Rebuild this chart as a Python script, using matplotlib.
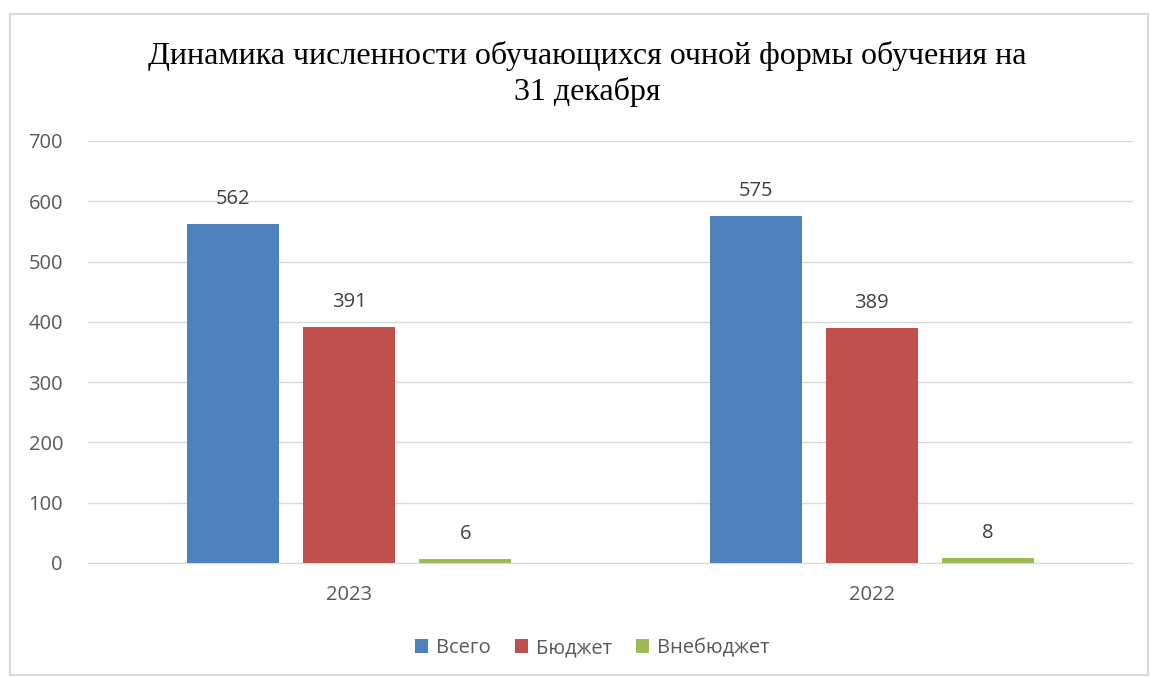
import matplotlib
matplotlib.use("Agg")
import matplotlib.pyplot as plt
from matplotlib.patches import Rectangle
import numpy as np

categories = ["2023", "2022"]
series_names = ["Всего", "Бюджет", "Внебюджет"]
vsego = [562, 575]
budget = [391, 389]
vnebudget = [6, 8]
colors = ["#4F81BD", "#C0504D", "#9BBB59"]
title = "Динамика численности обучающихся очной формы обучения на\n31 декабря"

plt.rcParams['font.family'] = ['Open Sans', 'DejaVu Sans']
fig = plt.figure(figsize=(11.5, 6.77), dpi=100)
fig.patches.append(Rectangle((10/1150, 2/677), 1138/1150, (677-14-2)/677, transform=fig.transFigure,
                             fill=False, edgecolor="#D9D9D9", linewidth=1.5))
ax = fig.add_axes([88/1150, 1-563/677, 1045/1150, 422/677])

x = np.arange(len(categories))
width = 0.176
step = 0.222
data = [vsego, budget, vnebudget]
for i, (vals, name, c) in enumerate(zip(data, series_names, colors)):
    bars = ax.bar(x + (i-1)*step, vals, width, color=c, label=name, zorder=3)
    for b, v in zip(bars, vals):
        ax.annotate(str(v), (b.get_x()+b.get_width()/2, v), xytext=(0, 11), textcoords="offset points",
                    ha="center", va="bottom", fontsize=14.5, color="#404040")

ax.set_xlim(-0.5, 1.5)
ax.set_ylim(0, 700)
ax.set_yticks(range(0, 701, 100))
ax.set_xticks(x)
ax.set_xticklabels(categories)
ax.grid(axis="y", color="#D9D9D9", linewidth=1, zorder=0)
for s in ["top", "right", "left"]:
    ax.spines[s].set_visible(False)
ax.spines["bottom"].set_color("#D9D9D9")
ax.tick_params(axis="both", length=0, labelsize=14.5, colors="#595959")
ax.tick_params(axis="x", pad=16)
ax.tick_params(axis="y", pad=18)

fig.text(0.511, 1-74/677, title, ha="center", va="center", fontsize=23,
         family=["Liberation Serif", "DejaVu Serif"], linespacing=1.22, color="#000000")

handles, labels = ax.get_legend_handles_labels()
fig.legend(handles, labels, loc="center", bbox_to_anchor=(0.515, 1-648/677), ncol=3, frameon=False,
           fontsize=14.5, handlelength=0.65, handleheight=0.65, handletextpad=0.4, columnspacing=1.2,
           labelcolor="#595959")

fig.savefig("out.png", dpi=100, facecolor="white")
